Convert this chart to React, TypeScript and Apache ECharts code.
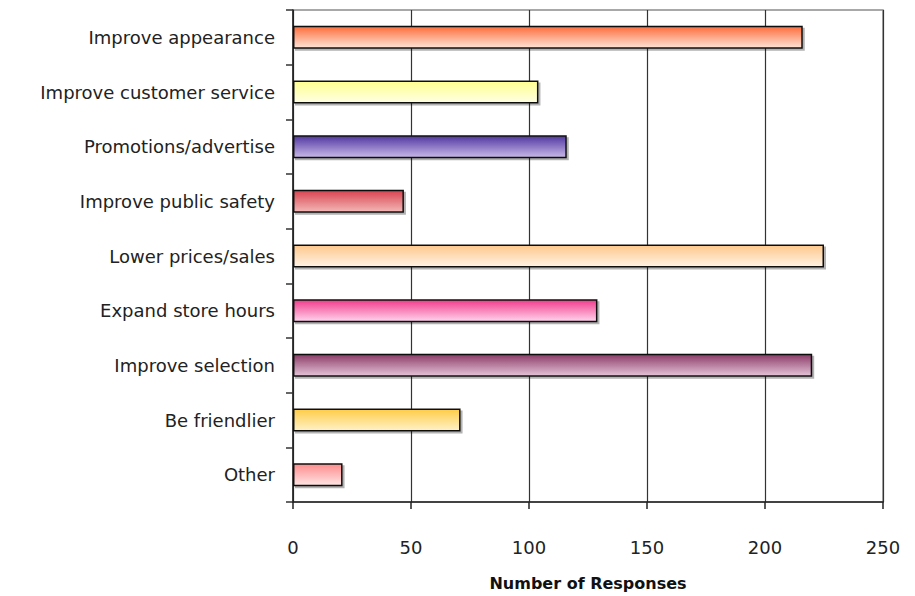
import React, { useEffect, useRef } from "react";
import * as echarts from "echarts";

// Survey answers, top to bottom
const categories = [
  "Improve appearance",
  "Improve customer service",
  "Promotions/advertise",
  "Improve public safety",
  "Lower prices/sales",
  "Expand store hours",
  "Improve selection",
  "Be friendlier",
  "Other",
];

const responses = [216, 104, 116, 47, 225, 129, 220, 71, 21];

const xTicks = [0, 50, 100, 150, 200, 250];

// Gradient stops per bar: darker at the top edge, lighter below
const topColors = [
  "#ff6e3c",
  "#ffff90",
  "#5038a0",
  "#d84450",
  "#ffc88c",
  "#f03c8c",
  "#8c3c68",
  "#ffcc48",
  "#ff8c8c",
];
const bottomColors = [
  "#ffe4d8",
  "#ffffe4",
  "#c8b8e8",
  "#f4b8b8",
  "#fff2e4",
  "#ffd4ec",
  "#e4c4d8",
  "#fff2c8",
  "#ffe4e4",
];

const FONT = "'DejaVu Sans', sans-serif";

export default function App() {
  const ref = useRef<HTMLDivElement>(null);

  useEffect(() => {
    if (!ref.current) return;
    const chart = echarts.init(ref.current, undefined, { renderer: "svg" });

    const data = responses.map((v, i) => ({
      value: v,
      itemStyle: {
        color: new echarts.graphic.LinearGradient(0, 0, 0, 1, [
          { offset: 0, color: topColors[i] },
          { offset: 1, color: bottomColors[i] },
        ]),
      },
    }));

    chart.setOption({
      animation: false,
      backgroundColor: "#ffffff",
      grid: {
        left: 293,
        right: 32,
        top: 10,
        bottom: 86,
        show: true,
        borderColor: "#8c8c8c",
        borderWidth: 1.5,
        backgroundColor: "transparent",
      },
      xAxis: {
        type: "value",
        min: xTicks[0],
        max: xTicks[xTicks.length - 1],
        interval: 50,
        name: "Number of Responses",
        nameLocation: "middle",
        nameGap: 73,
        nameTextStyle: {
          fontFamily: FONT,
          fontSize: 16,
          fontWeight: "bold",
          color: "#111",
        },
        axisLine: { show: true, lineStyle: { color: "#222", width: 1.5 } },
        axisTick: { show: true, length: 7, lineStyle: { color: "#222", width: 1.5 } },
        axisLabel: {
          margin: 36,
          fontFamily: FONT,
          fontSize: 18,
          color: "#222",
        },
        splitLine: { show: true, lineStyle: { color: "#333", width: 1.2 } },
      },
      yAxis: {
        type: "category",
        data: categories,
        inverse: true,
        axisLine: { show: true, lineStyle: { color: "#222", width: 1.5 } },
        axisTick: { show: true, length: 7, lineStyle: { color: "#333", width: 1.5 } },
        axisLabel: {
          margin: 18,
          fontFamily: FONT,
          fontSize: 18,
          color: "#222",
        },
        splitLine: { show: false },
      },
      series: [
        {
          type: "bar",
          data,
          barWidth: 23,
          itemStyle: {
            borderColor: "#111",
            borderWidth: 1.5,
            shadowColor: "rgba(0,0,0,0.3)",
            shadowOffsetX: 2,
            shadowOffsetY: 2,
            shadowBlur: 0,
          },
        },
      ],
    });

    return () => chart.dispose();
  }, []);

  return (
    <div
      ref={ref}
      style={{ position: "absolute", left: 0, top: 0, width: 915, height: 596 }}
    />
  );
}
